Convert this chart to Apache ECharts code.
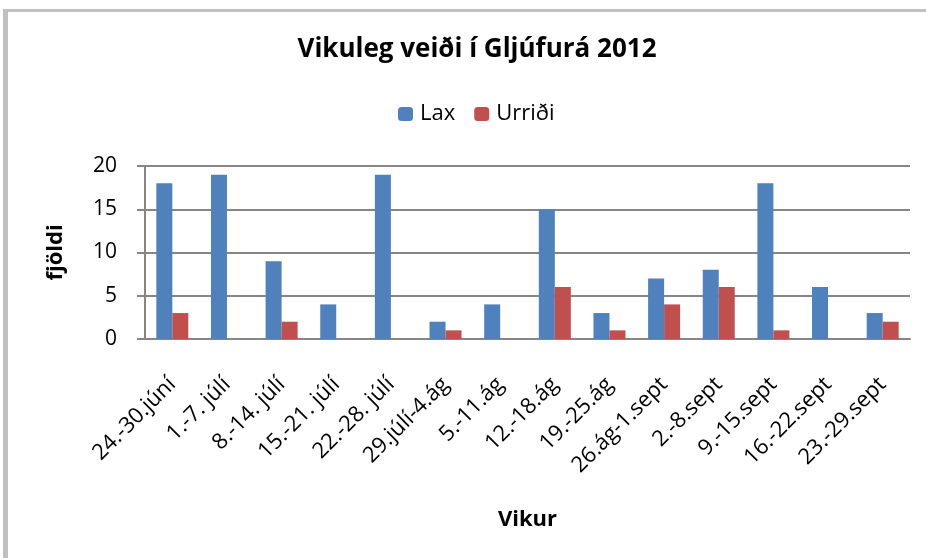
<!DOCTYPE html>
<html>
<head>
<meta charset="utf-8">
<script src="https://cdn.jsdelivr.net/npm/echarts@6/dist/echarts.min.js"></script>
<style>
  html, body { margin: 0; padding: 0; background: #fff; }
  #main { width: 926px; height: 558px; }
</style>
</head>
<body>
<div id="main"></div>
<script>
// vikur og veiði
var weeks = ['24.-30.júní', '1.-7. júlí', '8.-14. júlí', '15.-21. júlí', '22.-28. júlí',
  '29.júlí-4.ág', '5.-11.ág', '12.-18.ág', '19.-25.ág', '26.ág-1.sept',
  '2.-8.sept', '9.-15.sept', '16.-22.sept', '23.-29.sept'];
var lax = [18, 19, 9, 4, 19, 2, 4, 15, 3, 7, 8, 18, 6, 3];
var urridi = [3, 0, 2, 0, 0, 1, 0, 6, 1, 4, 6, 1, 0, 2];
var yTicks = [0, 5, 10, 15, 20];

var font = '"Open Sans", "Noto Sans", sans-serif';
var chart = echarts.init(document.getElementById('main'));

var option = {
  animation: false,
  textStyle: { fontFamily: font },
  graphic: [
    // ramminn utan um
    { type: 'rect', shape: { x: 3, y: 9, width: 5, height: 560 }, style: { fill: '#c0c0c0' }, silent: true },
    { type: 'rect', shape: { x: 3, y: 9, width: 923, height: 3 }, style: { fill: '#c0c0c0' }, silent: true }
  ],
  title: {
    text: 'Vikuleg veiði í Gljúfurá 2012',
    left: 472, top: 32, textAlign: 'center',
    textStyle: { fontSize: 26, fontWeight: 'bold', color: '#000', fontFamily: font }
  },
  legend: {
    top: 98, left: 393,
    itemWidth: 15, itemHeight: 14, itemGap: 19,
    textStyle: { fontSize: 22, color: '#000', padding: [0, 0, 0, 2] },
    data: ['Lax', 'Urriði']
  },
  grid: { left: 145, right: 16, top: 166, bottom: 219 },
  xAxis: {
    type: 'category',
    data: weeks,
    name: 'Vikur',
    nameLocation: 'middle',
    nameGap: 170,
    nameTextStyle: { fontSize: 22, fontWeight: 'bold', color: '#000' },
    axisLine: { lineStyle: { color: '#868686', width: 2 } },
    axisTick: { show: false },
    axisLabel: { rotate: 45, fontSize: 22, color: '#000', margin: 42, interval: 0 }
  },
  yAxis: {
    type: 'value',
    min: yTicks[0], max: yTicks[yTicks.length - 1], interval: 5,
    name: 'fjöldi',
    nameLocation: 'middle',
    nameGap: 78,
    nameTextStyle: { fontSize: 22, fontWeight: 'bold', color: '#000' },
    axisLine: { show: true, lineStyle: { color: '#868686', width: 2 } },
    axisTick: { show: true, length: 8, lineStyle: { color: '#868686', width: 2 } },
    axisLabel: { fontSize: 21, color: '#000', margin: 28 },
    splitLine: { lineStyle: { color: '#868686', width: 2 } }
  },
  series: [
    {
      name: 'Lax', type: 'bar', data: lax,
      barWidth: 16, barGap: '0%',
      itemStyle: { color: '#4f81bd' }
    },
    {
      name: 'Urriði', type: 'bar', data: urridi,
      barWidth: 16,
      itemStyle: { color: '#c0504d' }
    }
  ]
};
chart.setOption(option);
</script>
</body>
</html>
